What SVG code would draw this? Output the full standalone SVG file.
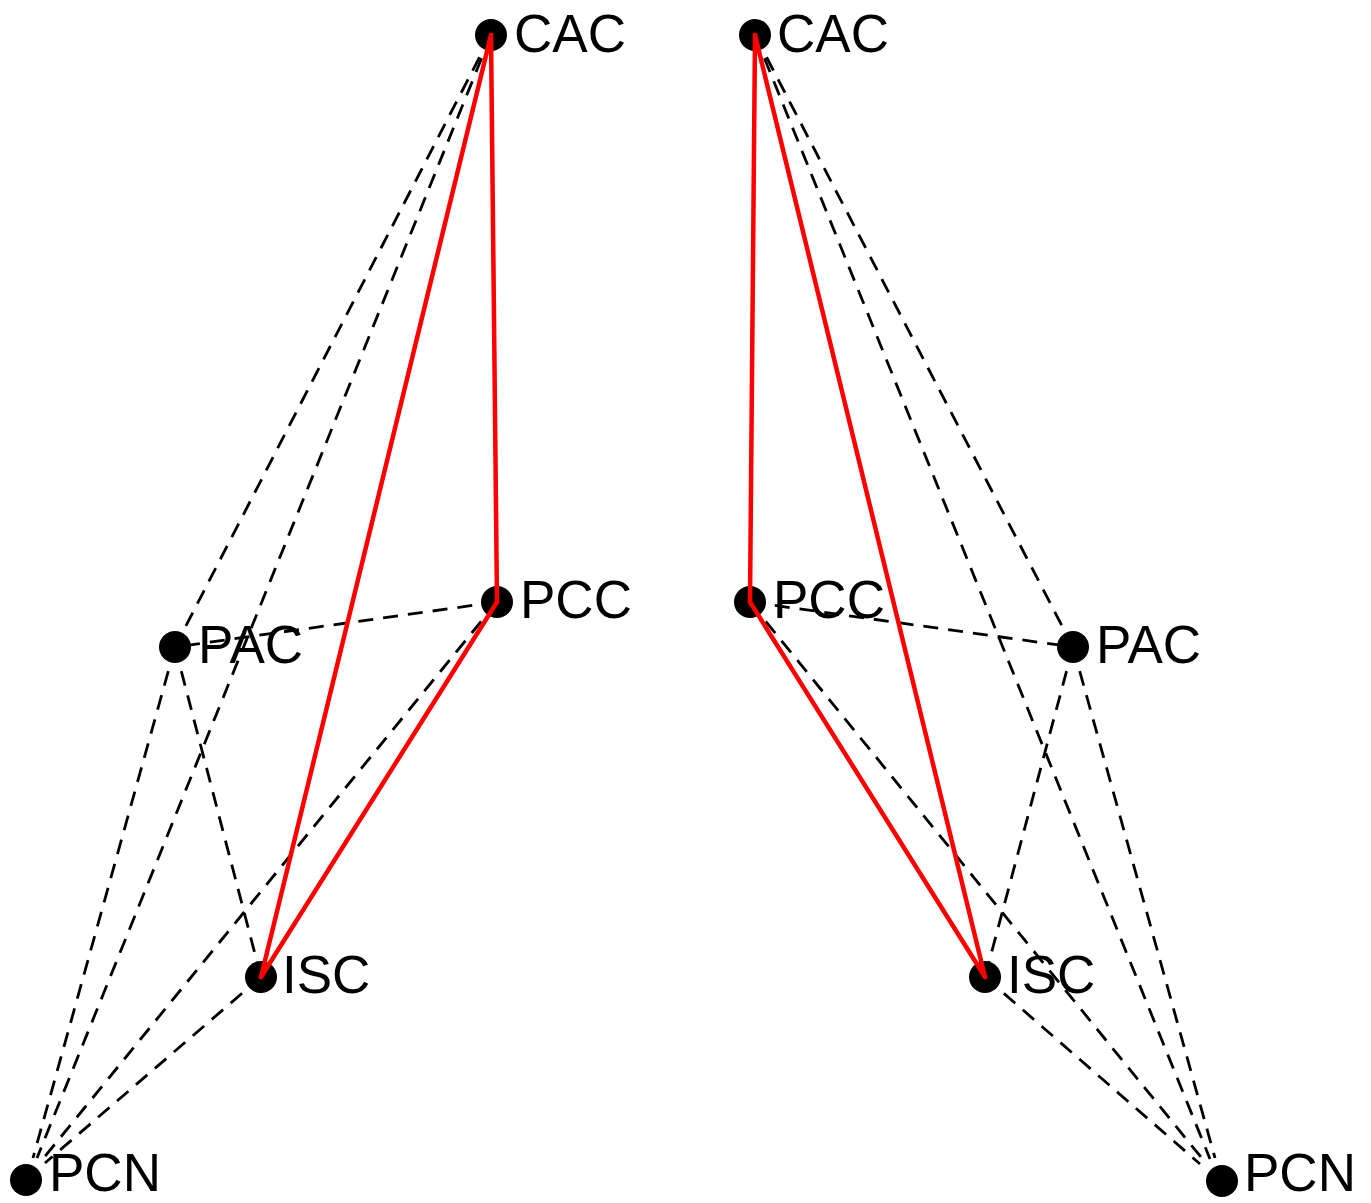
<svg xmlns="http://www.w3.org/2000/svg" width="1371" height="1203" viewBox="0 0 1371 1203">
<style>
.dot{fill:#000}
.lbl{font-family:"Liberation Sans",Arial,sans-serif;font-size:53px;fill:#000}
.red{stroke:#ff0000;stroke-width:4.5;fill:none;stroke-linecap:round}
.dash{stroke:#000;stroke-width:2.8;fill:none;stroke-dasharray:15 10}
</style>
<rect width="1371" height="1203" fill="#fff"/>
<g id="nodes">
<g id="L_CAC"><circle class="dot" cx="491" cy="35" r="16"/><text class="lbl" x="514" y="52">CAC</text></g>
<g id="L_PCC"><circle class="dot" cx="497" cy="602" r="16"/><text class="lbl" x="520" y="618">PCC</text></g>
<g id="L_PAC"><circle class="dot" cx="175" cy="647" r="16"/><text class="lbl" x="198" y="663">PAC</text></g>
<g id="L_ISC"><circle class="dot" cx="261" cy="977" r="16"/><text class="lbl" x="282" y="993">ISC</text></g>
<g id="L_PCN"><circle class="dot" cx="26" cy="1180" r="16"/><text class="lbl" x="49" y="1191">PCN</text></g>
<g id="R_CAC"><circle class="dot" cx="755" cy="35" r="16"/><text class="lbl" x="777" y="52">CAC</text></g>
<g id="R_PCC"><circle class="dot" cx="750" cy="602" r="16"/><text class="lbl" x="773" y="618">PCC</text></g>
<g id="R_PAC"><circle class="dot" cx="1073" cy="647" r="16"/><text class="lbl" x="1096" y="663">PAC</text></g>
<g id="R_ISC"><circle class="dot" cx="985" cy="977" r="16"/><text class="lbl" x="1007" y="993">ISC</text></g>
<g id="R_PCN"><circle class="dot" cx="1222" cy="1181" r="16"/><text class="lbl" x="1244" y="1191">PCN</text></g>
</g>
<g id="connectors">
<line class="dash" x1="491" y1="35" x2="175" y2="647"/>
<line class="dash" x1="491" y1="35" x2="37" y2="1158"/>
<line class="dash" x1="497" y1="602" x2="175" y2="647"/>
<line class="dash" x1="175" y1="647" x2="261" y2="977"/>
<line class="dash" x1="175" y1="647" x2="33" y2="1158"/>
<line class="dash" x1="497" y1="602" x2="42" y2="1160"/>
<line class="dash" x1="261" y1="977" x2="45" y2="1163"/>
<line class="red" x1="491" y1="35" x2="497" y2="602"/>
<line class="red" x1="491" y1="35" x2="261" y2="977"/>
<line class="red" x1="497" y1="602" x2="261" y2="977"/>
<line class="dash" x1="755" y1="35" x2="1073" y2="647"/>
<line class="dash" x1="755" y1="35" x2="1210" y2="1159"/>
<line class="dash" x1="750" y1="602" x2="1073" y2="647"/>
<line class="dash" x1="1073" y1="647" x2="985" y2="977"/>
<line class="dash" x1="1073" y1="647" x2="1215" y2="1158"/>
<line class="dash" x1="750" y1="602" x2="1205" y2="1162"/>
<line class="dash" x1="985" y1="977" x2="1200" y2="1164"/>
<line class="red" x1="755" y1="35" x2="750" y2="602"/>
<line class="red" x1="755" y1="35" x2="985" y2="977"/>
<line class="red" x1="750" y1="602" x2="985" y2="977"/>
</g>
</svg>
